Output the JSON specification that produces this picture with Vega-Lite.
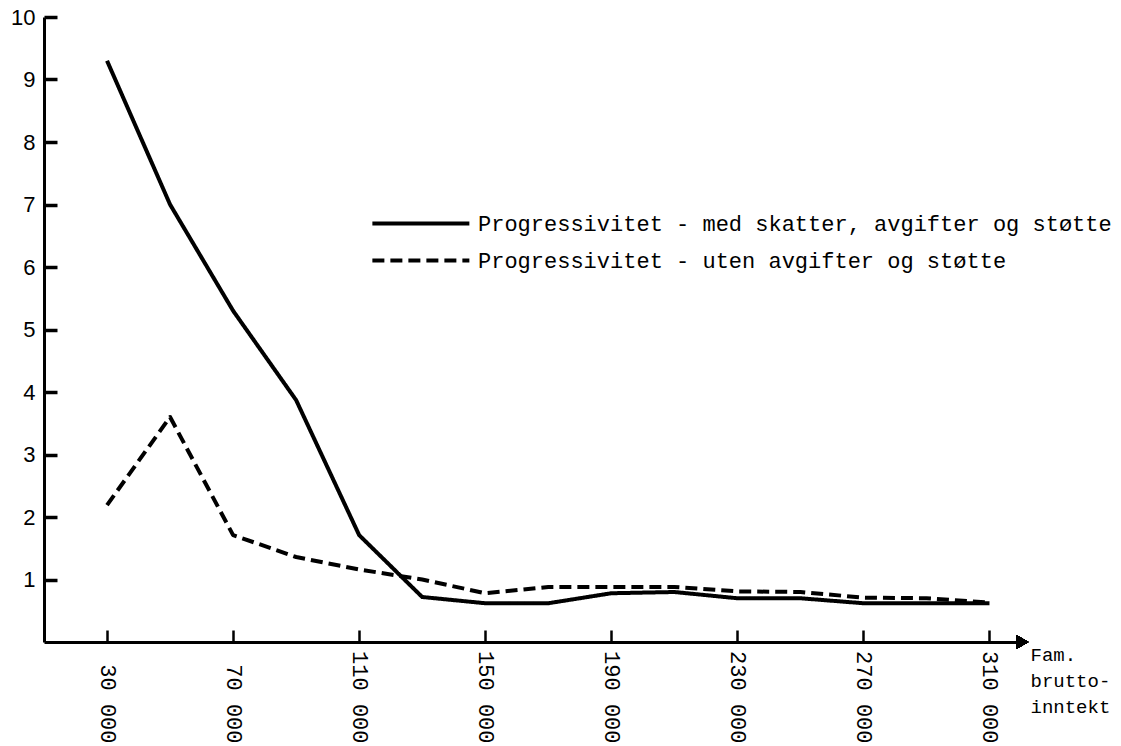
{
  "$schema": "https://vega.github.io/schema/vega-lite/v6.json",
  "width": 977,
  "height": 625,
  "autosize": {"type": "none"},
  "padding": {"left": 44, "top": 17, "right": 100, "bottom": 104},
  "background": "white",
  "config": {
    "view": {"stroke": null},
    "axis": {"grid": false, "domainColor": "black", "tickColor": "black", "labelColor": "black", "titleColor": "black"},
    "legend": {"symbolStrokeColor": "black"}
  },
  "data": {"values": [
    {"inntekt": 30000, "serie": "Progressivitet - med skatter, avgifter og støtte", "verdi": 9.3},
    {"inntekt": 50000, "serie": "Progressivitet - med skatter, avgifter og støtte", "verdi": 7.0},
    {"inntekt": 70000, "serie": "Progressivitet - med skatter, avgifter og støtte", "verdi": 5.3},
    {"inntekt": 90000, "serie": "Progressivitet - med skatter, avgifter og støtte", "verdi": 3.87},
    {"inntekt": 110000, "serie": "Progressivitet - med skatter, avgifter og støtte", "verdi": 1.71},
    {"inntekt": 130000, "serie": "Progressivitet - med skatter, avgifter og støtte", "verdi": 0.72},
    {"inntekt": 150000, "serie": "Progressivitet - med skatter, avgifter og støtte", "verdi": 0.62},
    {"inntekt": 170000, "serie": "Progressivitet - med skatter, avgifter og støtte", "verdi": 0.62},
    {"inntekt": 190000, "serie": "Progressivitet - med skatter, avgifter og støtte", "verdi": 0.78},
    {"inntekt": 210000, "serie": "Progressivitet - med skatter, avgifter og støtte", "verdi": 0.8},
    {"inntekt": 230000, "serie": "Progressivitet - med skatter, avgifter og støtte", "verdi": 0.7},
    {"inntekt": 250000, "serie": "Progressivitet - med skatter, avgifter og støtte", "verdi": 0.7},
    {"inntekt": 270000, "serie": "Progressivitet - med skatter, avgifter og støtte", "verdi": 0.62},
    {"inntekt": 290000, "serie": "Progressivitet - med skatter, avgifter og støtte", "verdi": 0.62},
    {"inntekt": 310000, "serie": "Progressivitet - med skatter, avgifter og støtte", "verdi": 0.62},
    {"inntekt": 30000, "serie": "Progressivitet - uten avgifter og støtte", "verdi": 2.19},
    {"inntekt": 50000, "serie": "Progressivitet - uten avgifter og støtte", "verdi": 3.6},
    {"inntekt": 70000, "serie": "Progressivitet - uten avgifter og støtte", "verdi": 1.71},
    {"inntekt": 90000, "serie": "Progressivitet - uten avgifter og støtte", "verdi": 1.36},
    {"inntekt": 110000, "serie": "Progressivitet - uten avgifter og støtte", "verdi": 1.16},
    {"inntekt": 130000, "serie": "Progressivitet - uten avgifter og støtte", "verdi": 1.0},
    {"inntekt": 150000, "serie": "Progressivitet - uten avgifter og støtte", "verdi": 0.78},
    {"inntekt": 170000, "serie": "Progressivitet - uten avgifter og støtte", "verdi": 0.88},
    {"inntekt": 190000, "serie": "Progressivitet - uten avgifter og støtte", "verdi": 0.88},
    {"inntekt": 210000, "serie": "Progressivitet - uten avgifter og støtte", "verdi": 0.88},
    {"inntekt": 230000, "serie": "Progressivitet - uten avgifter og støtte", "verdi": 0.81},
    {"inntekt": 250000, "serie": "Progressivitet - uten avgifter og støtte", "verdi": 0.8},
    {"inntekt": 270000, "serie": "Progressivitet - uten avgifter og støtte", "verdi": 0.71},
    {"inntekt": 290000, "serie": "Progressivitet - uten avgifter og støtte", "verdi": 0.7},
    {"inntekt": 310000, "serie": "Progressivitet - uten avgifter og støtte", "verdi": 0.63}
  ]},
  "layer": [
    {
      "mark": {"type": "line", "color": "black", "strokeWidth": 4, "strokeJoin": "round"},
      "encoding": {
        "x": {
          "field": "inntekt", "type": "quantitative",
          "scale": {"domain": [10000, 320000], "nice": false, "zero": false},
          "axis": {
            "values": [30000, 70000, 110000, 150000, 190000, 230000, 270000, 310000],
            "labelExpr": "replace(format(datum.value, ','), ',', ' ')",
            "labelAngle": 90, "labelAlign": "right", "labelBaseline": "middle",
            "labelFont": "Liberation Mono", "labelFontSize": 22,
            "labelPadding": 113, "labelOverlap": false, "labelBound": false, "labelFlush": false,
            "tickSize": -12, "tickWidth": 2.5, "domainWidth": 3,
            "title": ["Fam.", "brutto-", "inntekt"],
            "titleFont": "Liberation Mono", "titleFontSize": 19, "titleFontWeight": "normal",
            "titleAngle": 0, "titleAlign": "left", "titleBaseline": "top",
            "titleX": 986, "titleY": 3, "titleLineHeight": 26
          }
        },
        "y": {
          "field": "verdi", "type": "quantitative",
          "scale": {"domain": [0, 10], "nice": false},
          "axis": {
            "values": [1, 2, 3, 4, 5, 6, 7, 8, 9, 10],
            "format": "d",
            "labelFont": "Liberation Sans", "labelFontSize": 22,
            "labelPadding": 22, "tickSize": -13, "tickWidth": 3.5, "domainWidth": 3,
            "title": null
          }
        },
        "strokeDash": {
          "field": "serie", "type": "nominal",
          "scale": {
            "domain": ["Progressivitet - med skatter, avgifter og støtte", "Progressivitet - uten avgifter og støtte"],
            "range": [[1, 0], [12, 6]]
          },
          "legend": {
            "title": null, "orient": "none", "legendX": 326, "legendY": 192,
            "symbolType": "M-1,0H7", "symbolSize": 588, "symbolStrokeWidth": 4,
            "labelFont": "Liberation Mono", "labelFontSize": 22, "labelColor": "black",
            "labelOffset": 79, "padding": 0, "rowPadding": 11, "labelLimit": 1000
          }
        }
      }
    },
    {
      "mark": {"type": "point", "shape": "triangle-right", "filled": true, "color": "black", "size": 180, "opacity": 1},
      "encoding": {
        "x": {"datum": 320500},
        "y": {"datum": 0}
      }
    }
  ]
}
